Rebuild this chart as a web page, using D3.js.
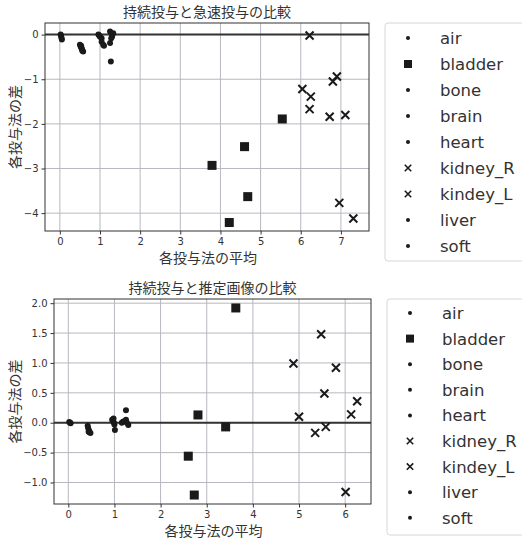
<!DOCTYPE html>
<html>
<head>
<meta charset="utf-8">
<script src="https://cdn.jsdelivr.net/npm/d3@7"></script>
<style>
body { margin: 0; background: #fff; }
svg text { fill: #333; }
</style>
</head>
<body>
<script>
var categories = ["air", "bladder", "bone", "brain", "heart", "kidney_R", "kindey_L", "liver", "soft"];
var markers = ["dot", "square", "dot", "dot", "dot", "x", "x", "dot", "dot"];

// 持続投与と急速投与: [平均, 差]
var rapidAir = [[0.02, 0.0], [0.03, -0.03], [0.04, -0.07], [0.05, -0.11]];
var rapidBladder = [[3.79, -2.93], [4.22, -4.21], [4.6, -2.51], [4.68, -3.63], [5.54, -1.89]];
var rapidBone = [[1.25, 0.07], [1.33, 0.03], [1.3, -0.04], [1.28, -0.08], [1.27, -0.6]];
var rapidBrain = [[0.5, -0.23], [0.52, -0.27], [0.53, -0.25], [0.54, -0.3]];
var rapidHeart = [[0.96, 0.0], [0.98, -0.02], [1.0, -0.05], [1.04, -0.08]];
var rapidKidneyR = [[6.22, -0.02], [6.04, -1.22], [6.25, -1.39], [6.22, -1.67], [6.96, -3.77]];
var rapidKidneyL = [[6.9, -0.94], [6.8, -1.05], [6.72, -1.84], [7.11, -1.8], [7.31, -4.12]];
var rapidLiver = [[1.04, -0.16], [1.08, -0.23], [1.1, -0.25], [1.25, -0.19]];
var rapidSoft = [[0.55, -0.33], [0.56, -0.36], [0.58, -0.38]];

// 持続投与と推定画像
var estAir = [[0.02, 0.01], [0.04, 0.0], [0.05, -0.01]];
var estBladder = [[2.6, -0.56], [2.73, -1.21], [2.81, 0.13], [3.41, -0.07], [3.63, 1.92]];
var estBone = [[1.25, 0.21], [1.25, 0.05], [1.19, 0.02], [1.27, 0.0], [1.3, -0.04]];
var estBrain = [[0.42, -0.05], [0.43, -0.09], [0.44, -0.15]];
var estHeart = [[0.95, 0.05], [0.97, 0.03], [0.98, 0.07], [0.99, 0.0], [1.0, -0.03]];
var estKidneyR = [[5.48, 1.48], [4.88, 0.99], [5.55, 0.49], [5.0, 0.1], [6.01, -1.16]];
var estKidneyL = [[5.8, 0.92], [6.26, 0.36], [6.13, 0.14], [5.35, -0.17], [5.58, -0.07]];
var estLiver = [[1.01, -0.12], [1.16, 0.0]];
var estSoft = [[0.45, -0.13], [0.46, -0.16], [0.48, -0.17]];

var rapidSeries = [rapidAir, rapidBladder, rapidBone, rapidBrain, rapidHeart, rapidKidneyR, rapidKidneyL, rapidLiver, rapidSoft];
var estSeries = [estAir, estBladder, estBone, estBrain, estHeart, estKidneyR, estKidneyL, estLiver, estSoft];

var rapidXTicks = [0, 1, 2, 3, 4, 5, 6, 7];
var rapidYTicks = [0, -1, -2, -3, -4];
var estXTicks = [0, 1, 2, 3, 4, 5, 6];
var estYTicks = [2.0, 1.5, 1.0, 0.5, 0.0, -0.5, -1.0];

var width = 522, height = 541;
var jp = "'Noto Sans CJK JP', sans-serif";
var latin = "'DejaVu Sans', sans-serif";

var svg = d3.select("body").append("svg")
    .attr("width", width)
    .attr("height", height);

function drawMarker(sel, type, big) {
    if (type == "square") {
        var s = big ? 9 : 8;
        sel.append("rect").attr("x", -s / 2).attr("y", -s / 2)
            .attr("width", s).attr("height", s).attr("fill", "#1a1a1a");
    } else if (type == "x") {
        var h = big ? 4 : 3.2;
        sel.append("path")
            .attr("d", "M" + -h + "," + -h + "L" + h + "," + h + "M" + -h + "," + h + "L" + h + "," + -h)
            .attr("stroke", "#1a1a1a").attr("stroke-width", big ? 2 : 1.6);
    } else {
        sel.append("circle").attr("r", big ? 3 : 2).attr("fill", "#1a1a1a");
    }
}

function drawPanel(p) {
    var g = svg.append("g");
    var x = d3.scaleLinear().domain(p.xDomain).range([p.left, p.right]);
    var y = d3.scaleLinear().domain(p.yDomain).range([p.bottom, p.top]);

    // grid
    g.selectAll(".gx").data(p.xTicks).enter().append("line")
        .attr("x1", function(d) { return x(d); }).attr("x2", function(d) { return x(d); })
        .attr("y1", p.top).attr("y2", p.bottom)
        .attr("stroke", "#b8b8c0").attr("stroke-width", 1);
    g.selectAll(".gy").data(p.yTicks).enter().append("line")
        .attr("y1", function(d) { return y(d); }).attr("y2", function(d) { return y(d); })
        .attr("x1", p.left).attr("x2", p.right)
        .attr("stroke", "#b8b8c0").attr("stroke-width", 1);

    // zero line
    g.append("line")
        .attr("x1", p.left).attr("x2", p.right)
        .attr("y1", y(0)).attr("y2", y(0))
        .attr("stroke", "#333").attr("stroke-width", 2);

    // axes
    var xAxis = g.append("g").attr("transform", "translate(0," + p.bottom + ")")
        .call(d3.axisBottom(x).tickValues(p.xTicks).tickFormat(d3.format("d")).tickSizeInner(3.5).tickSizeOuter(0).tickPadding(3));
    var yAxis = g.append("g").attr("transform", "translate(" + p.left + ",0)")
        .call(d3.axisLeft(y).tickValues(p.yTicks).tickFormat(d3.format(p.yFormat)).tickSizeInner(3.5).tickSizeOuter(0).tickPadding(3));
    [xAxis, yAxis].forEach(function(a) {
        a.select(".domain").remove();
        a.selectAll("line").attr("stroke", "#333");
        a.selectAll("text").style("font-family", latin).style("font-size", "10px").attr("fill", "#333");
    });

    g.append("rect")
        .attr("x", p.left).attr("y", p.top)
        .attr("width", p.right - p.left).attr("height", p.bottom - p.top)
        .attr("fill", "none").attr("stroke", "#333").attr("stroke-width", 1);

    // points
    p.series.forEach(function(pts, i) {
        g.selectAll(".pt" + i).data(pts).enter().append("g")
            .attr("transform", function(d) { return "translate(" + x(d[0]) + "," + y(d[1]) + ")"; })
            .each(function() { drawMarker(d3.select(this), markers[i], true); });
    });

    // labels
    g.append("text").attr("x", (p.left + p.right) / 2).attr("y", p.top - 6)
        .attr("text-anchor", "middle").style("font-family", jp).style("font-size", "14px")
        .text(p.title);
    g.append("text").attr("x", (p.left + p.right) / 2 + 1).attr("y", p.bottom + 32)
        .attr("text-anchor", "middle").style("font-family", jp).style("font-size", "14px")
        .text("各投与法の平均");
    g.append("text")
        .attr("transform", "translate(" + 20 + "," + (p.top + p.bottom) / 2 + ") rotate(-90)")
        .attr("text-anchor", "middle").style("font-family", jp).style("font-size", "14px")
        .text("各投与法の差");

    // legend
    var lg = svg.append("g");
    lg.append("rect")
        .attr("x", p.legX).attr("y", p.legTop)
        .attr("width", 150).attr("height", p.legBottom - p.legTop)
        .attr("rx", 3).attr("fill", "#fff").attr("stroke", "#d6d6d6");
    var rows = lg.selectAll(".row").data(categories).enter().append("g")
        .attr("transform", function(d, i) { return "translate(" + (p.legX + 23) + "," + (p.legFirst + i * p.legStep) + ")"; });
    rows.each(function(d, i) { drawMarker(d3.select(this), markers[i], false); });
    rows.append("text")
        .attr("x", 32).attr("y", 6)
        .style("font-family", latin).style("font-size", "16.5px")
        .text(function(d) { return d; });
}

drawPanel({
    title: "持続投与と急速投与の比較",
    left: 45, right: 369, top: 23, bottom: 231,
    xDomain: [-0.37, 7.7], yDomain: [-4.4, 0.26],
    xTicks: rapidXTicks, yTicks: rapidYTicks, yFormat: "d",
    series: rapidSeries,
    legX: 385, legTop: 23, legBottom: 261, legFirst: 38, legStep: 26
});

drawPanel({
    title: "持続投与と推定画像の比較",
    left: 54, right: 371, top: 299, bottom: 504,
    xDomain: [-0.31, 6.56], yDomain: [-1.36, 2.07],
    xTicks: estXTicks, yTicks: estYTicks, yFormat: ".1f",
    series: estSeries,
    legX: 387, legTop: 299, legBottom: 535, legFirst: 313, legStep: 25.6
});
</script>
</body>
</html>
